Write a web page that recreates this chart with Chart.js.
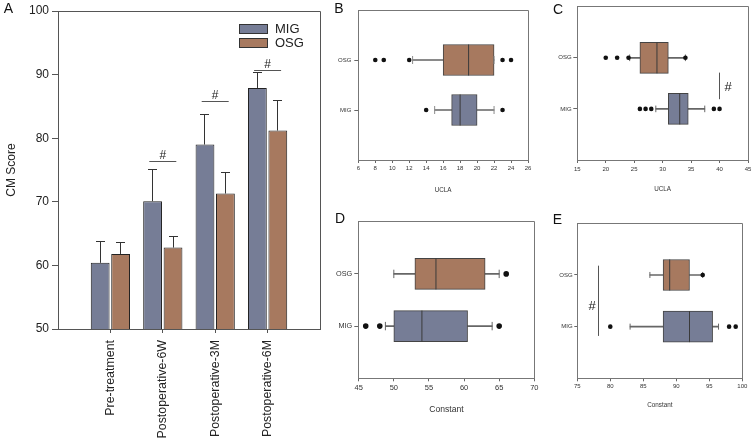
<!DOCTYPE html>
<html><head><meta charset="utf-8">
<script src="https://cdn.jsdelivr.net/npm/chart.js@4.4.1/dist/chart.umd.min.js"></script>
<style>
html,body{margin:0;padding:0;background:#fff;width:755px;height:443px;overflow:hidden}
canvas{position:absolute;left:0;top:0}
</style></head><body>
<canvas id="cA" width="755" height="443"></canvas>
<canvas id="cB" width="755" height="443"></canvas>
<canvas id="cC" width="755" height="443"></canvas>
<canvas id="cD" width="755" height="443"></canvas>
<canvas id="cE" width="755" height="443"></canvas>
<script>
// ---------- Panel A data ----------
const aCategories = ['Pre-treatment', 'Postoperative-6W', 'Postoperative-3M', 'Postoperative-6M'];
const aMIG = [60.4, 70.1, 79.0, 87.9];
const aMIGErr = [3.3, 5.0, 4.8, 2.5];
const aOSG = [61.8, 62.8, 71.3, 81.2];
const aOSGErr = [1.8, 1.7, 3.3, 4.8];
const aYTicks = [50, 60, 70, 80, 90, 100];
const aSigLevel = [null, 76.3, 85.7, 90.7];

// ---------- Panel B (UCLA) ----------
const bGroups = ['OSG', 'MIG'];
const bLow = [12.4, 15];
const bQ1 = [16, 17];
const bMed = [19, 18];
const bQ3 = [22, 20];
const bHigh = [22, 22];
const bOut = [[8, 9, 12, 23, 24], [14, 23]];
const bTicks = [6, 8, 10, 12, 14, 16, 18, 20, 22, 24, 26];

// ---------- Panel C (UCLA) ----------
const cGroups = ['OSG', 'MIG'];
const cLow = [24.2, 28.8];
const cQ1 = [26, 31];
const cMed = [29, 33];
const cQ3 = [31, 34.5];
const cHigh = [34, 37.4];
const cOut = [[20, 22, 24, 34], [26, 27, 28, 39, 40]];
const cTicks = [15, 20, 25, 30, 35, 40, 45];

// ---------- Panel D (Constant) ----------
const dGroups = ['OSG', 'MIG'];
const dLow = [50, 48.8];
const dQ1 = [53, 50];
const dMed = [56, 54];
const dQ3 = [63, 60.5];
const dHigh = [65, 64];
const dOut = [[66], [46, 48, 65]];
const dTicks = [45, 50, 55, 60, 65, 70];

// ---------- Panel E (Constant) ----------
const eGroups = ['OSG', 'MIG'];
const eLow = [86, 83];
const eQ1 = [88, 88];
const eMed = [89, 92];
const eQ3 = [92, 95.5];
const eHigh = [94, 96.4];
const eOut = [[94], [80, 98, 99]];
const eTicks = [75, 80, 85, 90, 95, 100];

const W = 755, H = 443;
const FONT = '"Liberation Sans", Arial, Helvetica, sans-serif';
Chart.defaults.font.family = FONT;
Chart.defaults.color = '#222';
const MIG_FILL = '#767d96';
const OSG_FILL = '#a7795f';

const al = v => Math.round(v - 0.5) + 0.5;

function framePlugin(color) {
  return {id: 'frame', afterDraw(chart) {
    const {ctx, chartArea: a} = chart;
    ctx.save(); ctx.strokeStyle = color; ctx.lineWidth = 1;
    ctx.beginPath();
    ctx.moveTo(al(a.left), al(a.top)); ctx.lineTo(al(a.right), al(a.top)); ctx.lineTo(al(a.right), al(a.bottom));
    ctx.stroke(); ctx.restore();
  }};
}
function letterPlugin(letter, x, y) {
  return {id: 'letter', afterDraw(chart) {
    const ctx = chart.ctx; ctx.save();
    ctx.font = '14px ' + FONT; ctx.fillStyle = '#111'; ctx.textAlign = 'center'; ctx.textBaseline = 'middle';
    ctx.fillText(letter, x, y); ctx.restore();
  }};
}

// ---------- Panel A chart ----------
const padArr = a => [null, ...a, null];
const aErrs = [padArr(aMIGErr), padArr(aOSGErr)];
const errPlugin = {id: 'err', afterDatasetsDraw(chart) {
  const {ctx, scales: {y}} = chart;
  ctx.save(); ctx.strokeStyle = '#333'; ctx.lineWidth = 1;
  chart.data.datasets.forEach((ds, d) => {
    chart.getDatasetMeta(d).data.forEach((el, i) => {
      const v = ds.data[i]; if (v == null) return;
      const x = al(el.x); const yt = al(y.getPixelForValue(v + aErrs[d][i]));
      ctx.beginPath(); ctx.moveTo(x, el.y); ctx.lineTo(x, yt);
      ctx.moveTo(x - 4.5, yt); ctx.lineTo(x + 4.5, yt); ctx.stroke();
    });
  });
  ctx.restore();
}};
const sigAPlugin = {id: 'sigA', afterDatasetsDraw(chart) {
  const {ctx, scales: {x, y}} = chart;
  ctx.save(); ctx.strokeStyle = '#555'; ctx.lineWidth = 1; ctx.fillStyle = '#222';
  ctx.font = '12px ' + FONT; ctx.textAlign = 'center'; ctx.textBaseline = 'alphabetic';
  aSigLevel.forEach((lv, i) => {
    if (lv == null) return;
    const cx = x.getPixelForValue(i + 1); const py = al(y.getPixelForValue(lv));
    ctx.beginPath(); ctx.moveTo(cx - 13.5, py); ctx.lineTo(cx + 13.5, py); ctx.stroke();
    ctx.fillText('#', cx, py - 2.5);
  });
  ctx.restore();
}};
const legendPlugin = {id: 'lg', afterDraw(chart) {
  const ctx = chart.ctx; ctx.save();
  chart.data.datasets.forEach((ds, i) => {
    const y = 24 + i * 14.3;
    ctx.fillStyle = ds.backgroundColor; ctx.fillRect(239.5, Math.round(y) + 0.5, 28, 9);
    ctx.strokeStyle = '#333'; ctx.lineWidth = 1; ctx.strokeRect(239.5, Math.round(y) + 0.5, 28, 9);
    ctx.fillStyle = '#222'; ctx.font = '13px ' + FONT; ctx.textBaseline = 'middle'; ctx.textAlign = 'left';
    ctx.fillText(ds.label, 275, y + 5);
  });
  ctx.restore();
}};

new Chart(document.getElementById('cA'), {
  type: 'bar',
  data: {labels: ['', ...aCategories, ''], datasets: [
    {label: 'MIG', data: padArr(aMIG), backgroundColor: MIG_FILL, borderColor: '#222', borderWidth: 1, borderSkipped: false},
    {label: 'OSG', data: padArr(aOSG), backgroundColor: OSG_FILL, borderColor: '#222', borderWidth: 1, borderSkipped: false}
  ]},
  options: {
    responsive: false, animation: false, events: [],
    layout: {padding: {left: 4, top: 11, right: W - 320, bottom: 0}, autoPadding: false},
    datasets: {bar: {categoryPercentage: 0.78, barPercentage: 0.92}},
    plugins: {legend: {display: false}, tooltip: {enabled: false}},
    scales: {
      x: {type: 'category', offset: false,
        grid: {offset: false, drawOnChartArea: false, tickLength: 4, tickColor: c => (c.index > 0 && c.index < 5) ? '#555' : 'rgba(0,0,0,0)'},
        border: {color: '#555'},
        ticks: {minRotation: 90, maxRotation: 90, autoSkip: false, padding: 7, font: {size: 12.4}, color: '#222'},
        afterFit: s => { s.height = 114; s.paddingLeft = 0; s.paddingRight = 0; }},
      y: {min: 50, max: 100,
        afterBuildTicks: s => { s.ticks = aYTicks.map(v => ({value: v})); },
        ticks: {padding: 3, font: {size: 12}, color: '#222'},
        grid: {drawOnChartArea: false, tickLength: 6, tickColor: '#555'},
        border: {color: '#555'},
        title: {display: true, text: 'CM Score', font: {size: 12}, padding: 0, color: '#222'},
        afterFit: s => { s.width = 54; s.paddingTop = 0; s.paddingBottom = 0; }}
    }
  },
  plugins: [errPlugin, sigAPlugin, legendPlugin, framePlugin('#555'), letterPlugin('A', 8.5, 9.5)]
});

// ---------- Box plot panels ----------
function boxChart(id, p) {
  const labels = ['', ...p.groups, ''];
  const outPts = [];
  p.groups.forEach((g, i) => p.out[i].forEach(v => outPts.push({x: v, y: g})));
  const capPts = [];
  p.groups.forEach((g, i) => { capPts.push({x: p.low[i], y: g}); capPts.push({x: p.high[i], y: g}); });
  const fills = p.groups.map(g => g === 'MIG' ? MIG_FILL : OSG_FILL);
  const a = p.area;
  const padding = {left: a.l - p.yW, top: a.t, right: W - a.r, bottom: H - a.b - p.xH};
  const plugins = [framePlugin('#777'), letterPlugin(p.letter, p.letterX, p.letterY)];
  if (p.sig) {
    plugins.push({id: 'sig', afterDatasetsDraw(chart) {
      const {ctx, scales: {x, y}} = chart; const s = p.sig;
      ctx.save(); ctx.strokeStyle = '#555'; ctx.lineWidth = 1;
      const px = al(x.getPixelForValue(s.x));
      ctx.beginPath(); ctx.moveTo(px, y.getPixelForValue(s.y1)); ctx.lineTo(px, y.getPixelForValue(s.y2)); ctx.stroke();
      ctx.fillStyle = '#222'; ctx.font = '13px ' + FONT; ctx.textAlign = 'center'; ctx.textBaseline = 'alphabetic';
      ctx.fillText('#', x.getPixelForValue(s.tx), y.getPixelForValue(s.ty));
      ctx.restore();
    }});
  }
  return new Chart(document.getElementById(id), {
    type: 'bar',
    data: {labels, datasets: [
      {type: 'scatter', data: outPts, pointStyle: 'circle', pointRadius: p.dot, pointBackgroundColor: '#111', pointBorderColor: '#111', pointBorderWidth: 0, order: 0},
      {type: 'scatter', data: p.groups.map((g, i) => ({x: p.med[i], y: g})), pointStyle: 'line', pointRotation: 90, pointRadius: p.boxH / 2, pointBorderColor: '#3a3a3a', pointBorderWidth: 1, order: 1},
      {type: 'scatter', data: capPts, pointStyle: 'line', pointRotation: 90, pointRadius: p.capR, pointBorderColor: p.wColor, pointBorderWidth: 1, order: 2},
      {type: 'bar', data: p.groups.map((g, i) => ({y: g, x: [p.q1[i], p.q3[i]]})), backgroundColor: fills, borderColor: '#444', borderWidth: 1, borderSkipped: false, barThickness: p.boxH, grouped: false, order: 3},
      {type: 'bar', data: p.groups.map((g, i) => ({y: g, x: [p.low[i], p.q1[i]]})), backgroundColor: p.wColor, borderWidth: 0, barThickness: p.wW, grouped: false, order: 4},
      {type: 'bar', data: p.groups.map((g, i) => ({y: g, x: [p.q3[i], p.high[i]]})), backgroundColor: p.wColor, borderWidth: 0, barThickness: p.wW, grouped: false, order: 4}
    ]},
    options: {
      indexAxis: 'y', responsive: false, animation: false, events: [],
      layout: {padding, autoPadding: false},
      plugins: {legend: {display: false}, tooltip: {enabled: false}},
      scales: {
        y: {type: 'category', offset: false,
          grid: {offset: false, drawOnChartArea: false, tickLength: p.yTick, tickColor: c => (c.index === 1 || c.index === 2) ? '#666' : 'rgba(0,0,0,0)'},
          border: {color: '#777'},
          ticks: {autoSkip: false, padding: p.yPad, font: {size: p.catFont}, color: '#333'},
          afterFit: s => { s.width = p.yW; s.paddingTop = 0; s.paddingBottom = 0; }},
        x: {type: 'linear', min: p.ticks[0], max: p.ticks[p.ticks.length - 1],
          afterBuildTicks: s => { s.ticks = p.ticks.map(v => ({value: v})); },
          grid: {drawOnChartArea: false, tickLength: p.xTick, tickColor: '#666'},
          border: {color: '#777'},
          ticks: {padding: p.xPad, font: {size: p.tickFont}, color: '#333'},
          title: {display: true, text: p.title, font: {size: p.titleFont}, padding: 0, color: '#333'},
          afterFit: s => { s.height = p.xH; s.paddingLeft = 0; s.paddingRight = 0; }}
      }
    },
    plugins
  });
}

boxChart('cB', {groups: bGroups, low: bLow, q1: bQ1, med: bMed, q3: bQ3, high: bHigh, out: bOut, ticks: bTicks,
  title: 'UCLA', area: {l: 358.3, t: 10, r: 528, b: 160}, yW: 50, xH: 33.8,
  tickFont: 6, catFont: 6, titleFont: 6.3, xTick: 3, xPad: 2, yTick: 4, yPad: 3,
  dot: 2.3, capR: 4, boxH: 31, wColor: '#8a8a8a', wW: 1.5, letter: 'B', letterX: 339, letterY: 9.5});

boxChart('cC', {groups: cGroups, low: cLow, q1: cQ1, med: cMed, q3: cQ3, high: cHigh, out: cOut, ticks: cTicks,
  title: 'UCLA', area: {l: 577.3, t: 6.7, r: 748, b: 160}, yW: 40, xH: 33.5,
  tickFont: 6, catFont: 6, titleFont: 6.3, xTick: 3, xPad: 2.5, yTick: 4, yPad: 1.6,
  dot: 2.3, capR: 3.3, boxH: 31, wColor: '#666', wW: 1, letter: 'C', letterX: 558, letterY: 10,
  sig: {x: 40, y1: 1.29, y2: 1.81, tx: 41.5, ty: 1.64}});

boxChart('cD', {groups: dGroups, low: dLow, q1: dQ1, med: dMed, q3: dQ3, high: dHigh, out: dOut, ticks: dTicks,
  title: 'Constant', area: {l: 358.7, t: 221.7, r: 534.3, b: 378.3}, yW: 50, xH: 36.9,
  tickFont: 7.5, catFont: 7.3, titleFont: 8.6, xTick: 3, xPad: 2.5, yTick: 4.4, yPad: 2,
  dot: 2.8, capR: 4.2, boxH: 31, wColor: '#666', wW: 1, letter: 'D', letterX: 340, letterY: 219});

boxChart('cE', {groups: eGroups, low: eLow, q1: eQ1, med: eMed, q3: eQ3, high: eHigh, out: eOut, ticks: eTicks,
  title: 'Constant', area: {l: 577.3, t: 223.3, r: 742.3, b: 378.3}, yW: 40, xH: 31.2,
  tickFont: 6, catFont: 6, titleFont: 6.3, xTick: 3, xPad: 1.8, yTick: 3, yPad: 1.6,
  dot: 2.3, capR: 3, boxH: 31, wColor: '#666', wW: 1, letter: 'E', letterX: 557.5, letterY: 220,
  sig: {x: 78.2, y1: 0.82, y2: 2.18, tx: 77.26, ty: 1.68}});
</script>
</body></html>
